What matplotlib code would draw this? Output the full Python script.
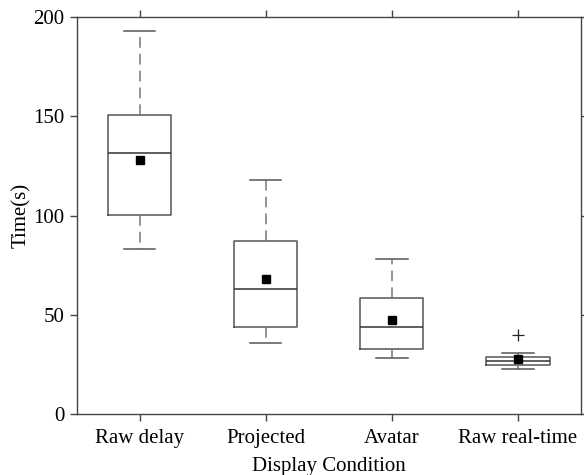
import matplotlib.pyplot as plt

conditions = ["Raw delay", "Projected", "Avatar", "Raw real-time"]
whisker_low = [83, 35.8, 28.2, 23.0]
q1 = [100.1, 43.7, 32.7, 25.0]
median = [131.8, 63.0, 43.7, 27.0]
q3 = [150.6, 87.2, 58.3, 28.9]
whisker_high = [193, 117.9, 78.2, 30.7]
means = [127.8, 68.0, 47.2, 28.0]
outliers = [[], [], [], [39.7]]

plt.rcParams["font.family"] = ["Liberation Serif", "DejaVu Serif"]

stats = []
for i, name in enumerate(conditions):
    stats.append({
        "label": name,
        "whislo": whisker_low[i],
        "q1": q1[i],
        "med": median[i],
        "q3": q3[i],
        "whishi": whisker_high[i],
        "mean": means[i],
        "fliers": outliers[i],
    })

fig = plt.figure(figsize=(5.84, 4.75), dpi=100)
ax = fig.add_axes([0.131, 0.128, 0.864, 0.836])

line_color = "#555555"
ax.bxp(
    stats,
    positions=[1, 2, 3, 4],
    widths=0.5,
    showmeans=True,
    boxprops=dict(color=line_color, linewidth=1.1),
    medianprops=dict(color="#333333", linewidth=1.1),
    whiskerprops=dict(color="#777777", linewidth=1.1, linestyle=(0, (7, 4))),
    capprops=dict(color=line_color, linewidth=1.1),
    capwidths=0.25,
    meanprops=dict(marker="s", markerfacecolor="black", markeredgecolor="black", markersize=6),
    flierprops=dict(marker="+", markeredgecolor="#222222", markersize=9, markeredgewidth=0.9),
)

ax.set_xlim(0.5, 4.5)
ax.set_ylim(0, 200)
ax.set_yticks([0, 50, 100, 150, 200])
ax.set_xticks([1, 2, 3, 4])
ax.set_xticklabels(conditions)
ax.set_xlabel("Display Condition", fontsize=15, labelpad=6)
ax.set_ylabel("Time(s)", fontsize=15, labelpad=2)

for spine in ax.spines.values():
    spine.set_color("#444444")
    spine.set_linewidth(1.0)
ax.tick_params(direction="out", length=5, width=1.0, colors="#444444",
               labelcolor="black", labelsize=15, top=True, right=True)
ax.tick_params(axis="x", pad=6)

fig.savefig("out.png", dpi=100)
